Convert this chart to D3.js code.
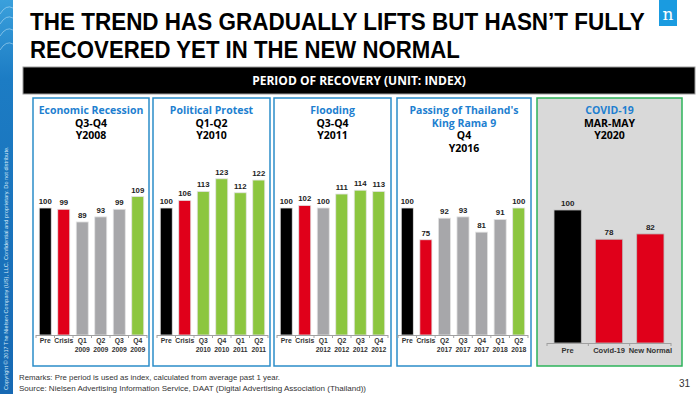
<!DOCTYPE html>
<head>
	<meta charset="utf-8">
	<style>
		body { margin: 0; background: #fff; }
		svg { font-family: "Open Sans", "Noto Sans", sans-serif; display: block; }
		.lbl { font-family: "Liberation Sans", Arial, sans-serif; font-weight: bold; fill: #333; }
		.val { font-family: "Liberation Sans", Arial, sans-serif; font-weight: bold; fill: #222; }
		.foot { font-family: "Liberation Sans", Arial, sans-serif; fill: #333; }
	</style>
</head>
<body>
	<svg width="700" height="394" viewBox="0 0 700 394"></svg>
	<script src="https://d3js.org/d3.v7.min.js"></script>
	<script>
		// data per panel
		var recessionCats = ["Pre", "Crisis", "Q1\n2009", "Q2\n2009", "Q3\n2009", "Q4\n2009"];
		var recessionVals = [100, 99, 89, 93, 99, 109];
		var recessionKind = ["pre", "crisis", "flat", "flat", "flat", "up"];

		var protestCats = ["Pre", "Crisis", "Q3\n2010", "Q4\n2010", "Q1\n2011", "Q2\n2011"];
		var protestVals = [100, 106, 113, 123, 112, 122];
		var protestKind = ["pre", "crisis", "up", "up", "up", "up"];

		var floodCats = ["Pre", "Crisis", "Q1\n2012", "Q2\n2012", "Q3\n2012", "Q4\n2012"];
		var floodVals = [100, 102, 100, 111, 114, 113];
		var floodKind = ["pre", "crisis", "flat", "up", "up", "up"];

		var kingCats = ["Pre", "Crisis", "Q2\n2017", "Q3\n2017", "Q4\n2017", "Q1\n2018", "Q2\n2018"];
		var kingVals = [100, 75, 92, 93, 81, 91, 100];
		var kingKind = ["pre", "crisis", "flat", "flat", "flat", "flat", "up"];

		var covidCats = ["Pre", "Covid-19", "New Normal"];
		var covidVals = [100, 78, 82];
		var covidKind = ["pre", "crisis", "crisis"];

		var panelTitles = ["Economic Recession", "Political Protest", "Flooding", "Passing of Thailand's\nKing Rama 9", "COVID-19"];
		var panelPeriods = ["Q3-Q4\nY2008", "Q1-Q2\nY2010", "Q3-Q4\nY2011", "Q4\nY2016", "MAR-MAY\nY2020"];

		var color = { pre: "#000000", crisis: "#e0001a", flat: "#a7a7aa", up: "#8cc63f" };

		var svg = d3.select("svg");

		// left strip
		var defs = svg.append("defs");
		var grad = defs.append("linearGradient").attr("id", "strip").attr("x1", 0).attr("y1", 0).attr("x2", 0).attr("y2", 1);
		grad.append("stop").attr("offset", "0%").attr("stop-color", "#3aa0dc");
		grad.append("stop").attr("offset", "20%").attr("stop-color", "#1c7cc4");
		grad.append("stop").attr("offset", "100%").attr("stop-color", "#1769b3");
		svg.append("rect").attr("x", 0).attr("y", 0).attr("width", 13).attr("height", 394).attr("fill", "url(#strip)");
		[8, 18, 30, 44].forEach(function (o) {
			svg.append("path")
				.attr("d", "M0," + (o + 6) + " Q6," + (o - 4) + " 13," + o)
				.attr("fill", "none").attr("stroke", "#bfe3f7").attr("stroke-opacity", 0.55).attr("stroke-width", 1);
		});
		svg.append("text")
			.attr("transform", "translate(8,390) rotate(-90)")
			.attr("font-size", 5.6).attr("fill", "#d6eaf8")
			.attr("font-family", "Liberation Sans, Arial, sans-serif")
			.text("Copyright \u00a9 2017 The Nielsen Company (US), LLC. Confidential and proprietary. Do not distribute.");

		// title - squeeze horizontally to the narrow face of the original
		var title = ["THE TREND HAS GRADUALLY LIFTS BUT HASN\u2019T FULLY", "RECOVERED YET IN THE NEW NORMAL"];
		var titleW = [615, 430];
		title.forEach(function (t, i) {
			var tt = svg.append("text").attr("x", 0).attr("y", 0)
				.attr("font-size", 23.5).attr("font-weight", 700).attr("fill", "#000")
				.attr("font-family", "Liberation Sans, Arial, sans-serif")
				.text(t);
			var k = titleW[i] / tt.node().getComputedTextLength();
			tt.attr("transform", "translate(30," + (30 + i * 28) + ") scale(" + k + ",1)");
		});

		// logo
		svg.append("rect").attr("x", 659).attr("y", 0).attr("width", 18).attr("height", 26).attr("fill", "#1a9be0");
		svg.append("text").attr("x", 668).attr("y", 20).attr("text-anchor", "middle")
			.attr("font-size", 17).attr("fill", "#fff").attr("font-family", "DejaVu Serif, serif").text("n");

		// banner
		svg.append("rect").attr("x", 23).attr("y", 67).attr("width", 672).attr("height", 27)
			.attr("fill", "#000").attr("stroke", "#9a9a9a").attr("stroke-width", 1);
		svg.append("text").attr("x", 359).attr("y", 85).attr("text-anchor", "middle")
			.attr("font-size", 12).attr("font-weight", 700).attr("fill", "#fff")
			.text("PERIOD OF RECOVERY (UNIT: INDEX)");

		// panels
		var panels = [
			{ cats: recessionCats, vals: recessionVals, kind: recessionKind, x0: 33, x1: 149, ax: [36, 147], base: 335, top100: 208 },
			{ cats: protestCats, vals: protestVals, kind: protestKind, x0: 153, x1: 270, ax: [157, 268], base: 335, top100: 208 },
			{ cats: floodCats, vals: floodVals, kind: floodKind, x0: 274, x1: 391, ax: [277, 388], base: 335, top100: 208 },
			{ cats: kingCats, vals: kingVals, kind: kingKind, x0: 397, x1: 531, ax: [398, 528], base: 335, top100: 208 },
			{ cats: covidCats, vals: covidVals, kind: covidKind, x0: 537, x1: 682, ax: [547, 671], base: 343, top100: 210, covid: true }
		];

		panels.forEach(function (p, pi) {
			var g = svg.append("g");
			g.append("rect").attr("x", p.x0).attr("y", 98).attr("width", p.x1 - p.x0).attr("height", 268)
				.attr("fill", p.covid ? "#d9d9d9" : "#fff")
				.attr("stroke", p.covid ? "#2db35a" : "#2b8dc9").attr("stroke-width", 1.5);

			var cx = (p.x0 + p.x1) / 2;
			var lines = panelTitles[pi].split("\n").map(function (t) { return { t: t, c: "#1e7fd0" }; })
				.concat(panelPeriods[pi].split("\n").map(function (t) { return { t: t, c: "#000" }; }));
			g.selectAll("text.ttl").data(lines).enter().append("text")
				.attr("class", "ttl")
				.attr("x", cx).attr("y", function (d, i) { return 114 + i * 12.7; })
				.attr("text-anchor", "middle").attr("font-size", 10.5).attr("font-weight", 700)
				.attr("fill", function (d) { return d.c; })
				.text(function (d) { return d.t; });

			var x = d3.scaleBand().domain(p.cats).range(p.ax)
				.paddingInner(p.covid ? 0.34 : 0.35).paddingOuter(p.covid ? 0.17 : 0.175);
			var y = d3.scaleLinear().domain([0, 100]).range([p.base, p.top100]);

			g.selectAll("rect.bar").data(p.vals).enter().append("rect")
				.attr("class", "bar")
				.attr("x", function (d, i) { return x(p.cats[i]); })
				.attr("width", x.bandwidth())
				.attr("y", function (d) { return y(d); })
				.attr("height", function (d) { return y(0) - y(d); })
				.attr("fill", function (d, i) { return color[p.kind[i]]; })
				.attr("stroke", p.covid ? "#bdbdbd" : "#e4e4e4").attr("stroke-width", 0.8);

			g.selectAll("text.val").data(p.vals).enter().append("text")
				.attr("class", "val")
				.attr("x", function (d, i) { return x(p.cats[i]) + x.bandwidth() / 2; })
				.attr("y", function (d) { return y(d) - 4; })
				.attr("text-anchor", "middle").attr("font-size", p.covid ? 8 : 7.8)
				.text(String);

			// axis line + boundary ticks
			g.append("line").attr("x1", p.ax[0]).attr("x2", p.ax[1]).attr("y1", y(0) + 0.5).attr("y2", y(0) + 0.5)
				.attr("stroke", "#a0a0a0").attr("stroke-width", 1);
			g.selectAll("line.tk").data(d3.range(p.cats.length + 1)).enter().append("line")
				.attr("class", "tk")
				.attr("x1", function (i) { return p.ax[0] + i * x.step(); })
				.attr("x2", function (i) { return p.ax[0] + i * x.step(); })
				.attr("y1", y(0)).attr("y2", y(0) + 3)
				.attr("stroke", "#a0a0a0");

			var lab = g.selectAll("text.lbl").data(p.cats).enter().append("text")
				.attr("class", "lbl")
				.attr("x", function (d) { return x(d) + x.bandwidth() / 2; })
				.attr("y", y(0) + (p.covid ? 10 : 8))
				.attr("text-anchor", "middle").attr("font-size", p.covid ? 7.5 : 6.8);
			lab.selectAll("tspan").data(function (d) { return d.split("\n"); }).enter().append("tspan")
				.attr("x", function () { return d3.select(this.parentNode).attr("x"); })
				.attr("dy", function (d, i) { return i ? 9 : 0; })
				.text(function (d) { return d; });
		});

		// footer
		svg.append("text").attr("class", "foot").attr("x", 19).attr("y", 380).attr("font-size", 7.6)
			.attr("textLength", 261).attr("lengthAdjust", "spacingAndGlyphs")
			.text("Remarks: Pre period is used as index, calculated from average past 1 year.");
		svg.append("text").attr("class", "foot").attr("x", 19).attr("y", 391).attr("font-size", 7.6)
			.attr("textLength", 347).attr("lengthAdjust", "spacingAndGlyphs")
			.text("Source: Nielsen Advertising Information Service, DAAT (Digital Advertising Association (Thailand))");
		svg.append("text").attr("class", "foot").attr("x", 690).attr("y", 387).attr("text-anchor", "end")
			.attr("font-size", 10).text("31");
	</script>
</body>
